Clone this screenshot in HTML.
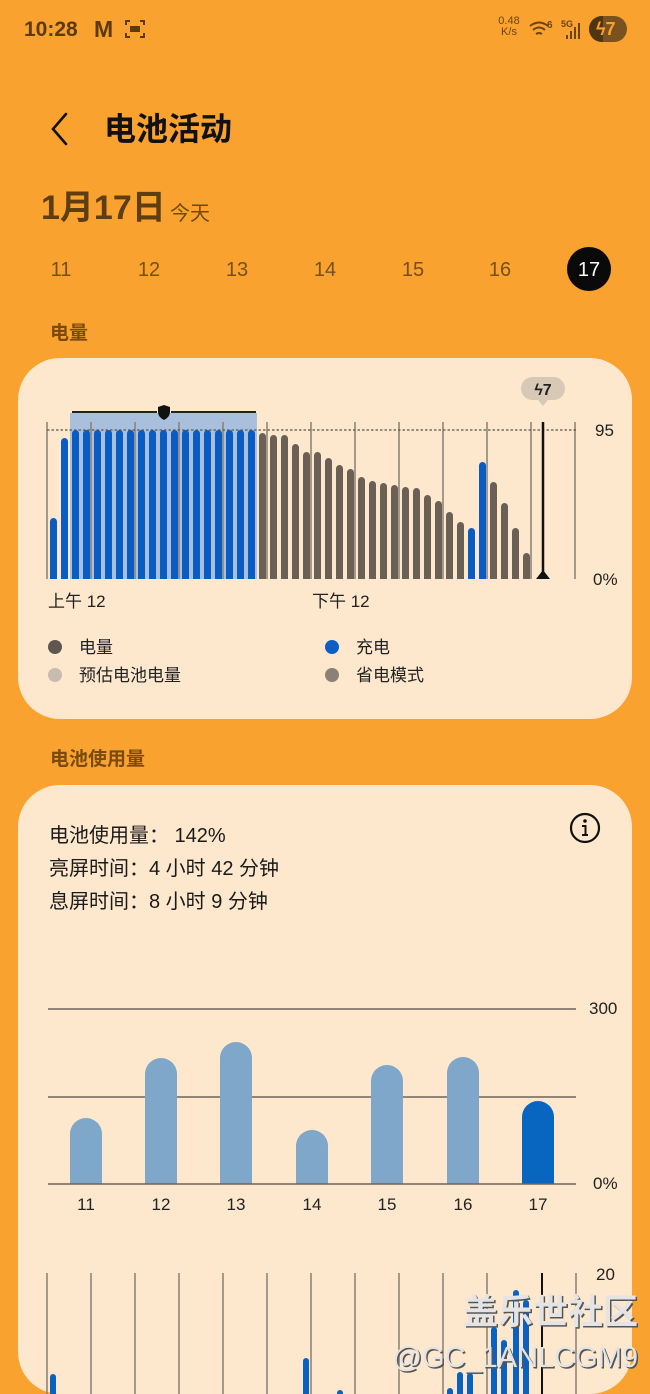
<!DOCTYPE html>
<html><head><meta charset="utf-8">
<style>
html,body{margin:0;padding:0;}
body{width:650px;height:1394px;background:#f9a22f;position:relative;overflow:hidden;font-family:"Liberation Sans","Noto Sans CJK SC",sans-serif;}
.t{position:absolute;white-space:nowrap;line-height:1;}
.card{position:absolute;background:#fde8cd;border-radius:42px;}
</style></head><body>
<div class="card" style="left:18px;top:358px;width:614px;height:361px;"></div>
<div class="card" style="left:18px;top:785px;width:614px;height:609px;"></div>

<!-- status bar -->
<div class="t" style="left:24px;top:19px;font-size:21px;font-weight:bold;color:#5a3a0e;">10:28</div>
<div class="t" style="left:94px;top:18px;font-size:23px;font-weight:bold;color:#5a3a0e;">M</div>
<svg style="position:absolute;left:124px;top:18px" width="22" height="22" viewBox="0 0 22 22"><g fill="none" stroke="#5a3a0e" stroke-width="2"><path d="M2 7V3h4M16 3h4v4M20 15v4h-4M6 19H2v-4"/></g><rect x="6" y="8" width="10" height="6" fill="#5a3a0e"/></svg>
<div class="t" style="left:497px;top:16px;font-size:11px;color:#6a4512;text-align:center;width:24px;">0.48<br>K/s</div>
<svg style="position:absolute;left:528px;top:16px" width="60" height="26" viewBox="0 0 60 26"><g fill="none" stroke="#6a4512" stroke-width="2"><path d="M2 10q9-7 18 0M5 14q6-5 12 0M8 18q3-2 6 0"/></g><text x="19" y="12" font-size="10" font-weight="bold" fill="#6a4512" font-family="Liberation Sans">6</text><text x="33" y="11" font-size="9" font-weight="bold" fill="#6a4512" font-family="Liberation Sans">5G</text><g fill="#6a4512"><rect x="38" y="19" width="2" height="4"/><rect x="42" y="15" width="2" height="8"/><rect x="46" y="11" width="2" height="12"/><rect x="50" y="7" width="2" height="16"/></g></svg>
<div style="position:absolute;left:589px;top:16px;width:38px;height:26px;border-radius:13px;background:#7a5220;"></div>
<div style="position:absolute;left:589px;top:16px;width:14px;height:26px;border-radius:13px 0 0 13px;background:#4f3510;"></div>
<div class="t" style="left:596px;top:20px;font-size:18px;font-weight:bold;color:#f9a22f;">ϟ7</div>

<!-- title -->
<svg style="position:absolute;left:48px;top:111px" width="24" height="36" viewBox="0 0 24 36"><path d="M18 3L5 18l13 15" fill="none" stroke="#111" stroke-width="2.6" stroke-linecap="round"/></svg>
<div class="t" style="left:104px;top:113px;font-size:32px;font-weight:bold;color:#111;">电池活动</div>
<div class="t" style="left:41px;top:191px;font-size:34px;font-weight:bold;color:#5e3d10;">1月17日</div>
<div class="t" style="left:170px;top:204px;font-size:20px;color:#6e4a18;">今天</div>

<!-- days -->
<div class="t" style="left:41px;top:260px;width:40px;text-align:center;font-size:20px;color:#74501c;">11</div>
<div class="t" style="left:129px;top:260px;width:40px;text-align:center;font-size:20px;color:#74501c;">12</div>
<div class="t" style="left:217px;top:260px;width:40px;text-align:center;font-size:20px;color:#74501c;">13</div>
<div class="t" style="left:305px;top:260px;width:40px;text-align:center;font-size:20px;color:#74501c;">14</div>
<div class="t" style="left:393px;top:260px;width:40px;text-align:center;font-size:20px;color:#74501c;">15</div>
<div class="t" style="left:480px;top:260px;width:40px;text-align:center;font-size:20px;color:#74501c;">16</div>
<div style="position:absolute;left:567px;top:247px;width:44px;height:44px;border-radius:50%;background:#0a0a0a;"></div>
<div class="t" style="left:569px;top:260px;width:40px;text-align:center;font-size:20px;color:#fff;">17</div>

<div class="t" style="left:50px;top:324px;font-size:19px;font-weight:bold;color:#7a4a0e;">电量</div>
<div class="t" style="left:50px;top:750px;font-size:19px;font-weight:bold;color:#7a4a0e;">电池使用量</div>

<svg style="position:absolute;left:0;top:0" width="650" height="1394" viewBox="0 0 650 1394">
<!-- chart 1 -->
<rect x="70" y="413" width="187" height="166" fill="#a9c0dc"/>
<g stroke="#8a7f74" stroke-width="1.5">
<line x1="47" y1="422" x2="47" y2="579"/><line x1="91" y1="422" x2="91" y2="579"/><line x1="135" y1="422" x2="135" y2="579"/><line x1="179" y1="422" x2="179" y2="579"/><line x1="223" y1="422" x2="223" y2="579"/><line x1="267" y1="422" x2="267" y2="579"/><line x1="311" y1="422" x2="311" y2="579"/><line x1="355" y1="422" x2="355" y2="579"/><line x1="399" y1="422" x2="399" y2="579"/><line x1="443" y1="422" x2="443" y2="579"/><line x1="487" y1="422" x2="487" y2="579"/><line x1="531" y1="422" x2="531" y2="579"/><line x1="575" y1="422" x2="575" y2="579"/>
</g>
<line x1="47" y1="430" x2="578" y2="430" stroke="#5e554d" stroke-width="1.3" stroke-dasharray="2.5 2"/>
<g id="bars1"></g>
<line x1="72" y1="412" x2="157" y2="412" stroke="#222" stroke-width="2"/>
<line x1="171" y1="412" x2="256" y2="412" stroke="#222" stroke-width="2"/>
<path d="M164 405l6 2v5q0 5-6 8q-6-3-6-8v-5z" fill="#111"/>
<line x1="543" y1="422" x2="543" y2="574" stroke="#111" stroke-width="2.5"/>
<path d="M536 579h14l-7-9z" fill="#111"/>
<rect x="521" y="377" width="44" height="23" rx="11.5" fill="#d8c9b6"/>
<path d="M538 400h10l-5 6z" fill="#d8c9b6"/>
<text x="543" y="395" text-anchor="middle" font-size="16" font-weight="bold" fill="#222" font-family="Liberation Sans,DejaVu Sans">ϟ7</text>
<text x="595" y="436" font-size="17" fill="#222" font-family="Liberation Sans">95</text>
<text x="593" y="585" font-size="17" fill="#222" font-family="Liberation Sans">0%</text>
<text x="48" y="607" font-size="17" fill="#222" font-family="Liberation Sans,Noto Sans CJK SC">上午 12</text>
<text x="312" y="607" font-size="17" fill="#222" font-family="Liberation Sans,Noto Sans CJK SC">下午 12</text>
<circle cx="55" cy="647" r="7" fill="#5f5650"/>
<circle cx="55" cy="675" r="7" fill="#c7bcad"/>
<circle cx="332" cy="647" r="7" fill="#0a5fc4"/>
<circle cx="332" cy="675" r="7" fill="#8b8176"/>
<g font-size="17" fill="#222" font-family="Liberation Sans,Noto Sans CJK SC">
<text x="79" y="653">电量</text><text x="79" y="681">预估电池电量</text>
<text x="356" y="653">充电</text><text x="356" y="681">省电模式</text>
</g>

<!-- card 2 text -->
<g font-size="20" fill="#1a1a1a" font-family="Liberation Sans,Noto Sans CJK SC">
<text x="49" y="842">电池使用量：  142%</text>
<text x="49" y="875">亮屏时间：4 小时 42 分钟</text>
<text x="49" y="908">息屏时间：8 小时 9 分钟</text>
</g>
<circle cx="585" cy="828" r="14" fill="none" stroke="#111" stroke-width="2.2"/>
<circle cx="585" cy="821" r="1.8" fill="#111"/>
<path d="M582 826h3.5v9M582 835h6" fill="none" stroke="#111" stroke-width="2"/>

<!-- chart 2 -->
<g stroke="#6d645c" stroke-width="1.5">
<line x1="48" y1="1009" x2="576" y2="1009"/>
<line x1="48" y1="1097" x2="576" y2="1097"/>
</g>
<g id="bars2"></g>
<line x1="48" y1="1184" x2="576" y2="1184" stroke="#6d645c" stroke-width="1.5"/>
<text x="589" y="1014" font-size="17" fill="#222" font-family="Liberation Sans">300</text>
<text x="593" y="1189" font-size="17" fill="#222" font-family="Liberation Sans">0%</text>
<g font-size="17" fill="#222" font-family="Liberation Sans" text-anchor="middle">
<text x="86" y="1210">11</text><text x="161" y="1210">12</text><text x="236" y="1210">13</text><text x="312" y="1210">14</text><text x="387" y="1210">15</text><text x="463" y="1210">16</text><text x="538" y="1210">17</text>
</g>

<!-- chart 3 -->
<g stroke="#8a7f74" stroke-width="1.5">
<line x1="47" y1="1273" x2="47" y2="1394"/><line x1="91" y1="1273" x2="91" y2="1394"/><line x1="135" y1="1273" x2="135" y2="1394"/><line x1="179" y1="1273" x2="179" y2="1394"/><line x1="223" y1="1273" x2="223" y2="1394"/><line x1="267" y1="1273" x2="267" y2="1394"/><line x1="311" y1="1273" x2="311" y2="1394"/><line x1="355" y1="1273" x2="355" y2="1394"/><line x1="399" y1="1273" x2="399" y2="1394"/><line x1="443" y1="1273" x2="443" y2="1394"/><line x1="487" y1="1273" x2="487" y2="1394"/><line x1="576" y1="1273" x2="576" y2="1394"/>
</g>
<line x1="542" y1="1273" x2="542" y2="1394" stroke="#111" stroke-width="2"/>
<text x="596" y="1280" font-size="17" fill="#222" font-family="Liberation Sans">20</text>
<g id="bars3" fill="#0a62c0">
<rect x="50" y="1374" width="6" height="30" rx="3"/>
<rect x="303" y="1358" width="6" height="40" rx="3"/>
<rect x="337" y="1390" width="6" height="10" rx="3"/>
<rect x="447" y="1388" width="6" height="10" rx="3"/>
<rect x="457" y="1372" width="6" height="30" rx="3"/>
<rect x="467" y="1373" width="6" height="30" rx="3"/>
<rect x="491" y="1327" width="6" height="70" rx="3"/>
<rect x="501" y="1340" width="6" height="60" rx="3"/>
<rect x="513" y="1290" width="6" height="110" rx="3"/>
<rect x="523" y="1300" width="6" height="100" rx="3"/>
</g>
<g font-family="Liberation Sans,Noto Sans CJK SC" text-anchor="end">
<text x="638" y="1324" font-size="35" font-weight="bold" fill="#555" transform="translate(1.5,1.5)">盖乐世社区</text>
<text x="638" y="1324" font-size="35" font-weight="bold" fill="#e4e4e4">盖乐世社区</text>
<text x="638" y="1367" font-size="29" fill="#555" transform="translate(1.5,1.5)">@GC_1ANLCGM9</text>
<text x="638" y="1367" font-size="29" fill="#e4e4e4">@GC_1ANLCGM9</text>
</g>
</svg>

<script>
(function(){
var ns="http://www.w3.org/2000/svg";
var g=document.getElementById("bars1");
var tops=[518,438];
for(var i=2;i<=18;i++)tops.push(430);
tops=tops.concat([433,435,435,444,452,452,458,465,469,477,481,483,485,487,488,495,501,512,522,528,462,482,503,528,553]);
for(var i=0;i<tops.length;i++){
 var x=50+i*11, t=tops[i];
 var blue=(i<=18||i==38||i==39);
 var p=document.createElementNS(ns,"path");
 p.setAttribute("d","M"+x+" 579V"+(t+3.5)+"a3.5 3.5 0 0 1 7 0V579z");
 p.setAttribute("fill",blue?"#0a5cc2":"#6b6056");
 g.appendChild(p);
}
var g2=document.getElementById("bars2");
var cx=[86,161,236,312,387,463,538], t2=[1118,1058,1042,1130,1065,1057,1101];
for(var j=0;j<7;j++){
 var p=document.createElementNS(ns,"path");
 var x=cx[j]-16;
 p.setAttribute("d","M"+x+" 1184V"+(t2[j]+16)+"a16 16 0 0 1 32 0V1184z");
 p.setAttribute("fill",j==6?"#0866c0":"#7ea7c9");
 g2.appendChild(p);
}
})();
</script>
</body></html>
